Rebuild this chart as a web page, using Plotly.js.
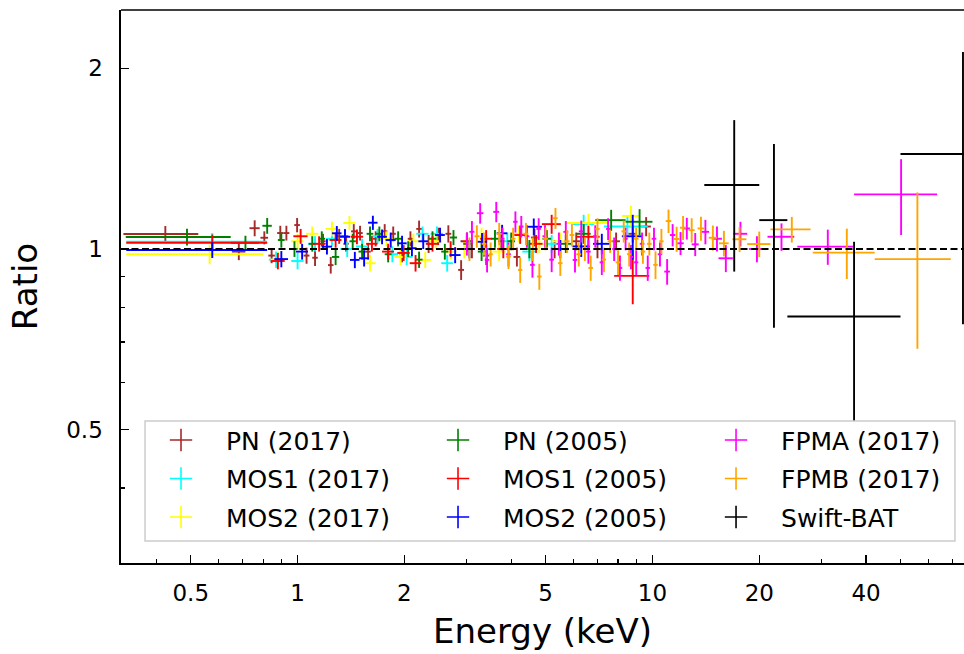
<!DOCTYPE html>
<html>
<head>
<meta charset="utf-8">
<script src="https://cdn.plot.ly/plotly-3.0.1.min.js"></script>
<style>html,body{margin:0;padding:0;background:#fff;overflow:hidden}</style>
</head>
<body>
<div id="chart" style="width:964px;height:654px"></div>
<script>
// ---------- data ----------
// PN (2017)
const pn17_E  = [0.424,0.683,0.757,0.806,0.845,0.894,0.93,0.997,1.06,1.12,1.18,1.24,1.31,1.37,1.44,1.50,1.58,1.66,1.76,1.86,1.97,2.08,2.2,2.34,2.49,2.66,2.89,3.1,3.4,3.75,4.15,4.65,5.3,6.1,7.0,7.9,8.8,9.6];
const pn17_dE = [0.101,0.03,0.025,0.02,0.018,0.018,0.018,0.018,0.02,0.02,0.02,0.022,0.022,0.024,0.025,0.026,0.028,0.03,0.03,0.032,0.034,0.036,0.04,0.042,0.045,0.05,0.055,0.06,0.07,0.08,0.09,0.1,0.12,0.15,0.18,0.2,0.25,0.3];
const pn17_R  = [1.059,0.990,1.083,1.044,0.975,1.063,1.063,1.096,0.975,0.967,1.03,0.94,1.05,1.02,1.07,1.063,0.99,1.04,1.07,1.06,0.98,1.04,1.08,1.02,1.05,1.06,0.923,1.0,0.975,1.03,0.97,1.045,1.0,1.03,1.0,1.03,1.06,1.09];
const pn17_dR = [0.033,0.032,0.033,0.026,0.028,0.03,0.03,0.03,0.03,0.03,0.03,0.03,0.03,0.03,0.03,0.03,0.03,0.03,0.03,0.03,0.03,0.03,0.035,0.035,0.035,0.035,0.035,0.035,0.035,0.035,0.035,0.035,0.035,0.035,0.035,0.035,0.035,0.04];
// MOS1 (2017)
const m117_E  = [0.575,0.87,1.0,1.12,1.25,1.38,1.52,1.68,1.85,2.03,2.25,2.47,2.64,3.0,3.4,3.9,4.5,5.2,6.4,8.5];
const m117_dE = [0.246,0.04,0.04,0.05,0.05,0.06,0.06,0.07,0.07,0.08,0.09,0.1,0.1,0.12,0.14,0.16,0.2,0.3,0.45,1.2];
const m117_R  = [1.028,0.96,0.955,1.02,1.04,1.0,1.01,1.05,0.98,0.97,1.06,1.06,0.947,1.03,1.0,1.03,0.99,1.02,1.10,1.09];
const m117_dR = [0.035,0.03,0.03,0.03,0.03,0.03,0.03,0.03,0.03,0.03,0.03,0.03,0.03,0.035,0.035,0.035,0.035,0.035,0.04,0.045];
// MOS2 (2017)
const m217_E  = [0.565,0.88,1.0,1.1,1.25,1.40,1.6,1.78,1.95,2.12,2.29,2.45,2.7,2.95,3.3,3.7,4.2,4.8,5.5,6.6,8.7];
const m217_dE = [0.236,0.04,0.04,0.045,0.05,0.055,0.06,0.07,0.075,0.08,0.09,0.1,0.11,0.12,0.14,0.16,0.2,0.25,0.3,0.9,0.5];
const m217_R  = [0.980,0.96,1.03,1.06,1.08,1.105,0.947,1.04,0.97,1.03,0.959,1.03,0.99,1.0,1.05,0.99,1.06,1.02,1.03,1.105,1.135];
const m217_dR = [0.037,0.03,0.03,0.03,0.03,0.03,0.03,0.03,0.03,0.03,0.03,0.03,0.03,0.035,0.035,0.035,0.035,0.035,0.035,0.04,0.045];
// PN (2005)
const pn05_E  = [0.488,0.713,0.821,0.90,0.98,1.10,1.17,1.28,1.36,1.43,1.52,1.60,1.70,1.80,1.92,2.05,2.2,2.4,2.6,2.75,3.0,3.3,3.6,4.0,4.5,5.04,5.7,6.4,7.65,9.2];
const pn05_dE = [0.16,0.064,0.025,0.02,0.02,0.025,0.025,0.03,0.03,0.03,0.035,0.035,0.04,0.04,0.045,0.05,0.05,0.06,0.06,0.065,0.07,0.08,0.09,0.1,0.12,0.14,0.2,0.3,0.75,0.8];
const pn05_R  = [1.047,1.024,1.093,1.035,1.0,1.02,1.04,0.97,1.05,1.03,0.99,1.06,1.06,0.98,1.04,1.0,0.96,1.04,0.99,1.045,1.02,0.99,1.04,1.03,1.0,1.04,1.02,1.06,1.117,1.11];
const pn05_dR = [0.034,0.028,0.033,0.03,0.03,0.03,0.03,0.03,0.03,0.03,0.03,0.03,0.03,0.03,0.03,0.03,0.03,0.03,0.03,0.03,0.03,0.035,0.035,0.035,0.035,0.035,0.035,0.04,0.045,0.055];
// MOS1 (2005)
const m105_E  = [0.575,0.88,1.02,1.15,1.28,1.47,1.62,1.8,1.99,2.15,2.4,2.7,3.0,3.4,3.8,4.24,4.7,5.2,6.6,8.8];
const m105_dE = [0.246,0.04,0.047,0.05,0.05,0.06,0.06,0.07,0.08,0.08,0.09,0.1,0.12,0.13,0.15,0.16,0.2,0.32,0.5,1.0];
const m105_R  = [1.024,0.955,1.05,1.02,1.035,1.048,1.02,0.99,0.985,0.947,1.02,1.0,1.03,1.04,1.0,1.055,1.02,1.10,1.048,0.902];
const m105_dR = [0.033,0.03,0.03,0.03,0.03,0.03,0.03,0.03,0.03,0.03,0.03,0.03,0.035,0.035,0.035,0.035,0.035,0.04,0.045,0.093];
// MOS2 (2005)
const m205_E  = [0.575,0.90,1.03,1.21,1.29,1.36,1.45,1.54,1.63,1.73,1.83,1.97,2.1,2.26,2.52,2.78,3.05,3.31,3.77,4.63,5.5,6.3,7.2,8.8];
const m205_dE = [0.246,0.04,0.04,0.04,0.04,0.045,0.045,0.05,0.05,0.055,0.06,0.06,0.065,0.07,0.08,0.1,0.1,0.11,0.13,0.25,0.3,0.35,0.4,0.6];
const m205_R  = [0.996,0.962,0.99,1.009,1.062,1.048,0.959,0.965,1.106,1.048,1.035,1.022,1.003,1.03,1.055,0.977,1.0,1.028,1.062,1.089,1.0,1.01,1.02,1.05];
const m205_dR = [0.03,0.03,0.03,0.03,0.03,0.03,0.03,0.03,0.03,0.03,0.03,0.03,0.03,0.03,0.03,0.03,0.035,0.035,0.035,0.035,0.035,0.04,0.04,0.09];
// FPMA (2017)
const fpma_E  = [3.0,3.1,3.27,3.42,3.63,3.78,3.93,4.11,4.27,4.43,4.59,4.78,4.98,5.2,5.45,5.7,6.05,6.3,6.6,6.9,7.2,7.5,7.8,8.1,8.4,8.7,9.0,9.35,9.7,10.1,10.5,11.0,11.4,12.0,12.5,13.2,14.1,15.2,16.1,17.7,19.7,23.1,31.2,50.2];
const fpma_dE = [0.04,0.05,0.07,0.05,0.07,0.05,0.06,0.06,0.06,0.07,0.07,0.07,0.08,0.08,0.08,0.09,0.09,0.1,0.1,0.1,0.1,0.1,0.1,0.12,0.12,0.12,0.12,0.14,0.14,0.15,0.15,0.2,0.2,0.25,0.25,0.3,0.35,0.5,0.75,0.8,1.0,2.0,5.6,13.2];
const fpma_R  = [1.02,1.068,1.147,0.959,1.153,1.04,0.98,1.11,1.09,1.05,0.941,1.08,1.05,0.96,1.02,1.068,0.959,1.07,0.99,1.05,0.95,1.08,1.0,0.93,1.04,0.97,0.95,1.02,0.93,1.04,0.98,0.917,1.055,1.022,1.082,1.018,1.068,1.04,0.965,1.06,1.0,1.048,1.009,1.233];
const fpma_dR = [0.045,0.045,0.045,0.045,0.045,0.045,0.045,0.045,0.045,0.045,0.045,0.045,0.045,0.045,0.045,0.045,0.045,0.045,0.045,0.045,0.045,0.045,0.045,0.045,0.045,0.045,0.045,0.045,0.045,0.045,0.045,0.045,0.045,0.045,0.045,0.045,0.05,0.05,0.05,0.05,0.05,0.055,0.068,0.178];
// FPMB (2017)
const fpmb_E  = [3.05,3.2,3.35,3.5,3.7,3.93,4.05,4.24,4.4,4.6,4.8,5.0,5.33,5.5,5.75,5.93,6.2,6.45,6.7,7.0,7.3,7.6,8.0,8.3,8.6,9.0,9.4,9.8,10.2,10.6,11.1,11.7,12.2,12.9,13.7,14.8,15.9,17.6,20.0,24.7,35.3,55.8];
const fpmb_dE = [0.04,0.05,0.05,0.05,0.06,0.06,0.06,0.06,0.07,0.07,0.07,0.08,0.08,0.08,0.09,0.09,0.1,0.1,0.1,0.1,0.1,0.12,0.12,0.12,0.12,0.14,0.14,0.15,0.15,0.15,0.2,0.2,0.25,0.25,0.3,0.4,0.5,0.8,1.5,3.2,7.0,13.5];
const fpmb_R  = [1.0,1.05,1.02,0.98,1.06,0.971,1.04,0.923,1.06,1.0,0.90,1.04,1.125,0.947,1.03,1.055,0.98,1.0,0.93,1.08,0.96,1.03,0.95,1.07,0.98,1.04,0.99,1.02,0.941,1.03,1.113,1.039,1.085,1.075,1.082,1.044,1.022,1.038,1.019,1.078,0.986,0.962];
const fpmb_dR = [0.045,0.045,0.045,0.045,0.045,0.045,0.045,0.045,0.045,0.045,0.045,0.045,0.045,0.045,0.045,0.045,0.045,0.045,0.045,0.045,0.045,0.045,0.045,0.045,0.045,0.045,0.045,0.045,0.05,0.05,0.05,0.05,0.05,0.05,0.05,0.05,0.05,0.05,0.05,0.053,0.095,0.28];
// Swift-BAT
const bat_E  = [17.0,22.0,37.0,75.0];
const bat_dE = [3.0,2.0,13.0,25.0];
const bat_R  = [1.278,1.117,0.772,1.439];
const bat_dR = [0.361,0.378,0.256,0.69];

// reference line
const refE = [0.318,75.5];
const refR = [1,1];

// axis ticks
const xTickVals = [0.5,1,2,5,10,20,40];
const xTickText = ['0.5','1','2','5','10','20','40'];
const xMinor = [0.4,0.6,0.7,0.8,0.9,3,4,6,7,8,9,30,50,60,70];
const yTickVals = [0.5,1,2];
const yTickText = ['0.5','1','2'];
const yMinor = [0.3,0.4,0.6,0.7,0.8,0.9];

// ---------- traces ----------
const FONT = 'DejaVu Sans';
const series = [
  {name:'PN (2017)',   color:'#a52a2a', E:pn17_E, dE:pn17_dE, R:pn17_R, dR:pn17_dR, leg:'legend'},
  {name:'MOS1 (2017)', color:'#00ffff', E:m117_E, dE:m117_dE, R:m117_R, dR:m117_dR, leg:'legend'},
  {name:'MOS2 (2017)', color:'#ffff00', E:m217_E, dE:m217_dE, R:m217_R, dR:m217_dR, leg:'legend'},
  {name:'PN (2005)',   color:'#008000', E:pn05_E, dE:pn05_dE, R:pn05_R, dR:pn05_dR, leg:'legend2'},
  {name:'MOS1 (2005)', color:'#ff0000', E:m105_E, dE:m105_dE, R:m105_R, dR:m105_dR, leg:'legend2'},
  {name:'MOS2 (2005)', color:'#0000ff', E:m205_E, dE:m205_dE, R:m205_R, dR:m205_dR, leg:'legend2'},
  {name:'FPMA (2017)', color:'#ff00ff', E:fpma_E, dE:fpma_dE, R:fpma_R, dR:fpma_dR, leg:'legend3'},
  {name:'FPMB (2017)', color:'#ffa500', E:fpmb_E, dE:fpmb_dE, R:fpmb_R, dR:fpmb_dR, leg:'legend3'},
  {name:'Swift-BAT',   color:'#000000', E:bat_E,  dE:bat_dE,  R:bat_R,  dR:bat_dR,  leg:'legend3'}
];

const traces = series.map(s => ({
  type:'scatter', mode:'markers', name:s.name, showlegend:false,
  x:s.E, y:s.R,
  marker:{size:2, color:s.color},
  error_x:{type:'data', symmetric:true, array:s.dE, color:s.color, thickness:1.9, width:0},
  error_y:{type:'data', symmetric:true, array:s.dR, color:s.color, thickness:1.9, width:0},
  hoverinfo:'skip'
}));

traces.push({
  type:'scatter', mode:'lines', x:refE, y:refR, showlegend:false,
  line:{color:'black', width:2, dash:'7px,3.5px'}, hoverinfo:'skip'
});

// legend keys: three column legends
series.forEach((s, i) => {
  traces.push({
    type:'scatter', mode:'markers', name:s.name, showlegend:true,
    legend:s.leg, legendgroup:'g' + i,
    x:[null], y:[null],
    marker:{symbol:'cross-thin-open', size:16, color:s.color, line:{color:s.color, width:1.6}}
  });
});

function colLegend(x) {
  return {
    orientation:'v', x:x, y:0.2636, xanchor:'left', yanchor:'top',
    bgcolor:'rgba(0,0,0,0)', borderwidth:0,
    font:{family:FONT, size:25, color:'black'},
    itemwidth:80, traceorder:'grouped', tracegroupgap:3
  };
}

const layout = {
  width:964, height:654,
  margin:{l:121, r:0, t:10, b:91},
  paper_bgcolor:'white', plot_bgcolor:'white',
  font:{family:FONT, color:'black'},
  showlegend:true,
  xaxis:{
    type:'log', range:[Math.log10(0.318), Math.log10(75.5)],
    tickmode:'array', tickvals:xTickVals, ticktext:xTickText,
    ticks:'inside', ticklen:8, tickwidth:1.4, tickcolor:'black',
    minor:{tickmode:'array', tickvals:xMinor, ticks:'inside', ticklen:4, tickwidth:1.2, tickcolor:'black', showgrid:false},
    showline:true, linecolor:'black', linewidth:1.6,
    showgrid:false, zeroline:false,
    tickfont:{family:FONT, size:23, color:'black'},
    ticklabelstandoff:9,
    title:{text:'Energy (keV)', font:{family:FONT, size:34, color:'black'}, standoff:14}
  },
  yaxis:{
    type:'log', range:[Math.log10(0.3), Math.log10(2.5)],
    tickmode:'array', tickvals:yTickVals, ticktext:yTickText,
    ticks:'inside', ticklen:8, tickwidth:1.4, tickcolor:'black',
    minor:{tickmode:'array', tickvals:yMinor, ticks:'inside', ticklen:4, tickwidth:1.2, tickcolor:'black', showgrid:false},
    showline:true, linecolor:'black', linewidth:1.6,
    showgrid:false, zeroline:false,
    tickfont:{family:FONT, size:23, color:'black'},
    ticklabelstandoff:12,
    title:{text:'Ratio', font:{family:FONT, size:34, color:'black'}, standoff:18}
  },
  shapes:[
    {type:'line', xref:'paper', yref:'paper', x0:0, x1:1, y0:1, y1:1, line:{color:'black', width:1.6}},
    {type:'rect', xref:'paper', yref:'paper', x0:0.0285, x1:0.9893, y0:0.0398, y1:0.2568,
     fillcolor:'white', line:{color:'#cccccc', width:1.5}, layer:'above'}
  ],
  legend:colLegend(0.0178),
  legend2:colLegend(0.3464),
  legend3:colLegend(0.6762)
};

Plotly.newPlot('chart', traces, layout, {displayModeBar:false, staticPlot:true});
</script>
</body>
</html>
